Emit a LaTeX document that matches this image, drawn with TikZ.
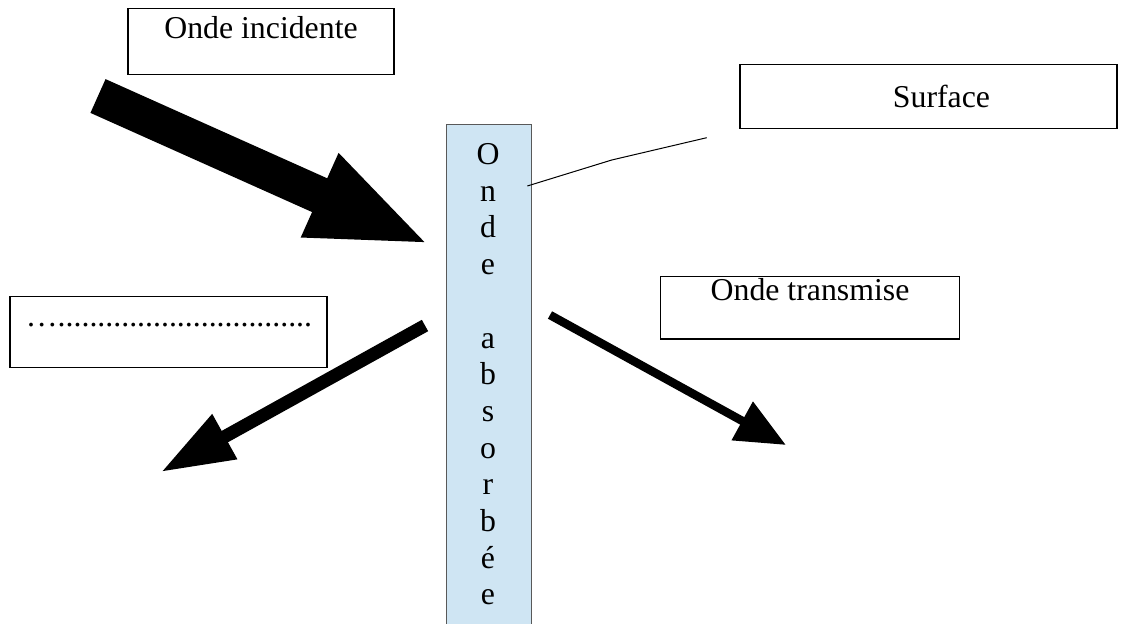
\documentclass[tikz,border=0pt]{standalone}
\usepackage{fontspec}
\setmainfont{Liberation Serif}
\usepackage{tikz}
\usetikzlibrary{arrows.meta,positioning,calc}

\definecolor{barblue}{HTML}{CFE5F3}
\newcommand{\labfont}{\fontsize{15.9pt}{18.35pt}\selectfont}

\begin{document}
\begin{tikzpicture}[
    x=0.5pt, y=-0.5pt,
    box/.style={draw, line width=0.6pt, inner sep=0pt, font=\labfont},
    wave/.style={line cap=butt},
    letter/.style={anchor=base, inner sep=0pt, font=\labfont}
  ]
  \useasboundingbox (0,0) rectangle (1141,623);
  \clip (0,0) rectangle (1141,623);

  % absorbing layer
  \node[draw=black!65, fill=barblue, line width=0.5pt, minimum width=42.5pt,
        minimum height=252pt, inner sep=0pt] (bar) at (489.2,376) {};
  \foreach \ch [count=\i from 0] in {O,n,d,e,{},a,b,s,o,r,b,é,e}
    \node[letter] (l\i) at (488,164.5+36.7*\i) {\ch};

  % text boxes
  \node[box, minimum width=133pt, text height=15.15pt, text depth=17.85pt]
    (inc) at (261,8) [anchor=north] {Onde incidente};
  \node[box, minimum width=188.5pt, text height=21.5pt, text depth=10.35pt]
    (surf) at (928.5,64) [anchor=north] {\hspace*{13pt}Surface};
  \node[box, text width=149.5pt, inner xsep=4.5pt, align=left,
        text height=15pt, text depth=20.35pt]
    (refl) at (9.3,296) [anchor=north west] {\hspace*{3.5pt}…................................};
  \node[box, minimum width=149.3pt, text height=12pt, text depth=19.15pt]
    (trans) at (810,276) [anchor=north] {Onde transmise};

  % arrows
  \coordinate (incA) at (98,96);
  \coordinate (incB) at (431,245);
  \coordinate (refA) at (425,325.5);
  \coordinate (refB) at (161,472);
  \coordinate (trA) at (550,315);
  \coordinate (trB) at (786,445);
  \draw[wave, line width=18.5pt, -{Triangle[length=61pt, width=41pt]}] (incA) -- (incB);
  \draw[wave, line width=6.5pt, -{Triangle[length=36.5pt, width=24pt]}] (refA) -- (refB);
  \draw[wave, line width=4.25pt, -{Triangle[length=25pt, width=21pt]}] (trA) -- (trB);

  % pointer to the surface
  \coordinate (sA) at (527.3,186);
  \coordinate (sB) at (611.7,160);
  \coordinate (sC) at (706.7,137.7);
  \draw[line width=0.5pt] (sA) -- (sB) -- (sC);
\end{tikzpicture}
\end{document}
